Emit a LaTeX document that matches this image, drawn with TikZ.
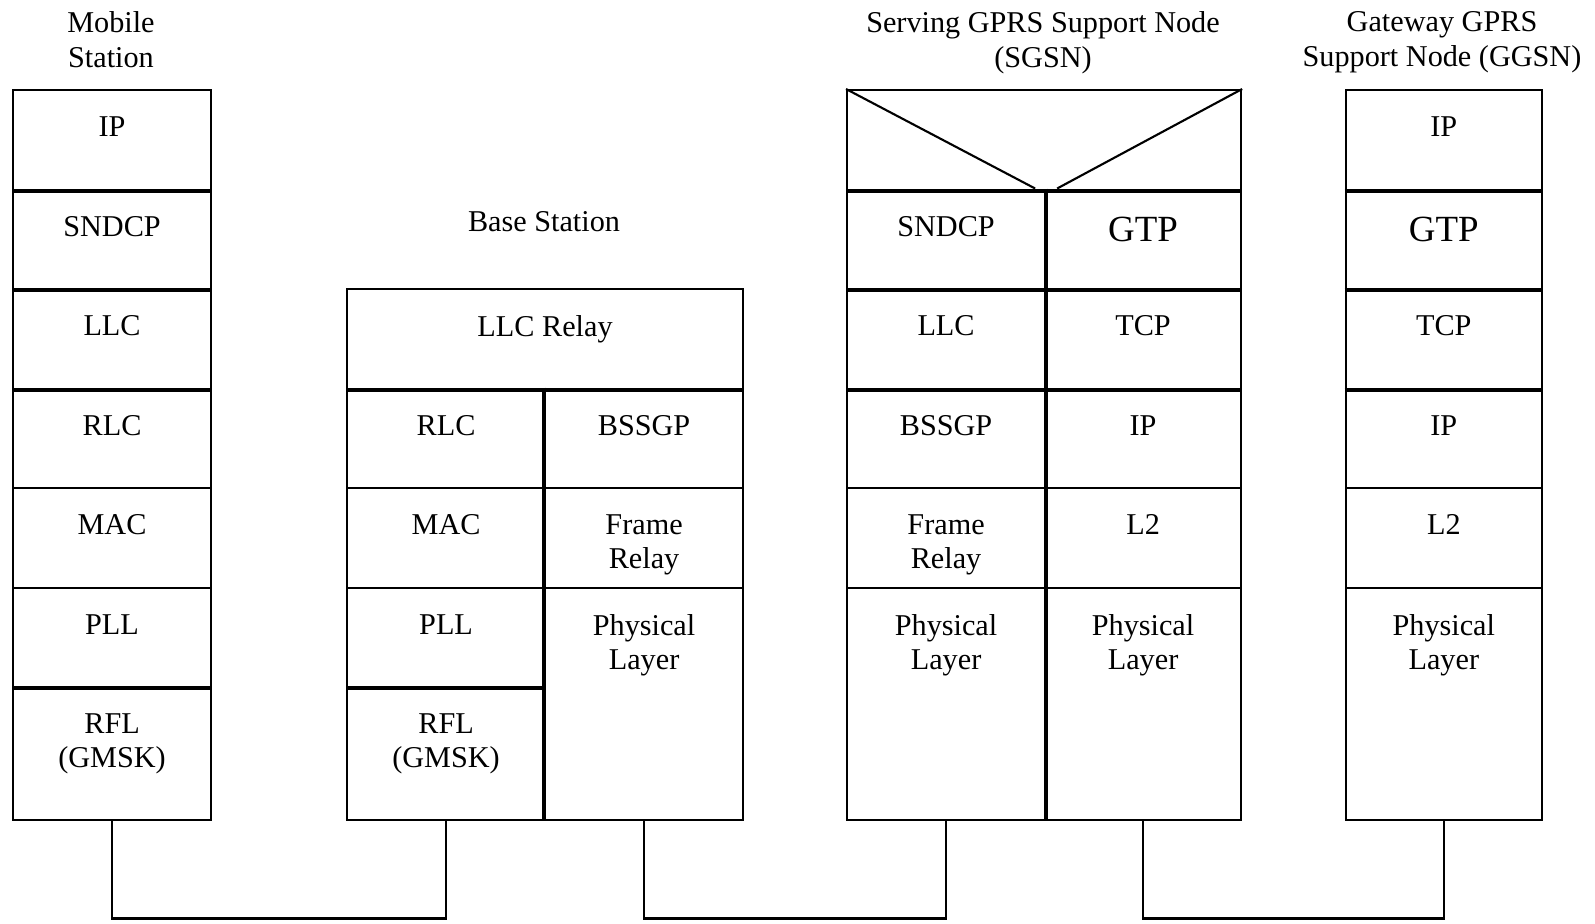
\documentclass[tikz,border=0pt]{standalone}
\usepackage{fontspec}
\setmainfont{Liberation Serif}

\begin{document}
\begin{tikzpicture}[x=1mm, y=-1mm,
  font=\fontsize{8.6}{9.8}\selectfont,
  cell/.style={draw, line width=0.6pt, anchor=north west, inner sep=0pt,
    minimum width=19.8mm, minimum height=9.95mm},
  lbl/.style={anchor=north, yshift=-2.7mm, inner sep=0pt, align=center},
  big/.style={lbl, yshift=-0.1mm, font=\fontsize{10.5}{11}\selectfont},
  head/.style={anchor=north, inner sep=0pt, align=center},
  sep/.style={line width=1.2pt},
  link/.style={line width=0.6pt}]
\useasboundingbox (0,0) rectangle (159.5,92.3);

\node[head] (mshead) at (11.1,1.1) {Mobile\\Station};
\node[head] (bshead) at (54.4,21.1) {Base Station};
\node[head] (sghead) at (104.3,1.1) {Serving GPRS Support Node\\(SGSN)};
\node[head] (gghead) at (144.2,1.1) {Gateway GPRS\\Support Node (GGSN)};

\node[cell, label={[lbl]north:IP}] (ms1) at (1.2,8.9) {};
\node[cell, label={[lbl]north:SNDCP}] (ms2) at (1.2,18.85) {};
\node[cell, label={[lbl]north:LLC}] (ms3) at (1.2,28.8) {};
\node[cell, label={[lbl]north:RLC}] (ms4) at (1.2,38.75) {};
\node[cell, label={[lbl]north:MAC}] (ms5) at (1.2,48.7) {};
\node[cell, label={[lbl]north:PLL}] (ms6) at (1.2,58.65) {};
\node[cell, minimum height=13.3mm, label={[lbl]north:RFL\\(GMSK)}] (ms7) at (1.2,68.6) {};

\node[cell, minimum width=39.6mm, label={[lbl]north:LLC Relay}] (bs0) at (34.6,28.8) {};
\node[cell, label={[lbl]north:RLC}] (bs1) at (34.6,38.75) {};
\node[cell, label={[lbl]north:BSSGP}] (bs2) at (54.4,38.75) {};
\node[cell, label={[lbl]north:MAC}] (bs3) at (34.6,48.7) {};
\node[cell, label={[lbl]north:Frame\\Relay}] (bs4) at (54.4,48.7) {};
\node[cell, label={[lbl]north:PLL}] (bs5) at (34.6,58.65) {};
\node[cell, minimum height=23.25mm, label={[lbl]north:Physical\\Layer}] (bs6) at (54.4,58.65) {};
\node[cell, minimum height=13.3mm, label={[lbl]north:RFL\\(GMSK)}] (bs7) at (34.6,68.6) {};

\node[cell, minimum width=39.4mm] (sg0) at (84.6,8.9) {};
\node[cell, label={[lbl]north:SNDCP}] (sg1) at (84.6,18.85) {};
\node[cell, minimum width=19.6mm, label={[big]north:GTP}] (sg2) at (104.4,18.85) {};
\node[cell, label={[lbl]north:LLC}] (sg3) at (84.6,28.8) {};
\node[cell, minimum width=19.6mm, label={[lbl]north:TCP}] (sg4) at (104.4,28.8) {};
\node[cell, label={[lbl]north:BSSGP}] (sg5) at (84.6,38.75) {};
\node[cell, minimum width=19.6mm, label={[lbl]north:IP}] (sg6) at (104.4,38.75) {};
\node[cell, label={[lbl]north:Frame\\Relay}] (sg7) at (84.6,48.7) {};
\node[cell, minimum width=19.6mm, label={[lbl]north:L2}] (sg8) at (104.4,48.7) {};
\node[cell, minimum height=23.25mm, label={[lbl]north:Physical\\Layer}] (sg9) at (84.6,58.65) {};
\node[cell, minimum width=19.6mm, minimum height=23.25mm, label={[lbl]north:Physical\\Layer}] (sg10) at (104.4,58.65) {};

\node[cell, minimum width=19.65mm, label={[lbl]north:IP}] (gg1) at (134.45,8.9) {};
\node[cell, minimum width=19.65mm, label={[big]north:GTP}] (gg2) at (134.45,18.85) {};
\node[cell, minimum width=19.65mm, label={[lbl]north:TCP}] (gg3) at (134.45,28.8) {};
\node[cell, minimum width=19.65mm, label={[lbl]north:IP}] (gg4) at (134.45,38.75) {};
\node[cell, minimum width=19.65mm, label={[lbl]north:L2}] (gg5) at (134.45,48.7) {};
\node[cell, minimum width=19.65mm, minimum height=23.25mm, label={[lbl]north:Physical\\Layer}] (gg6) at (134.45,58.65) {};

\draw[link] (sg0.north west) -- ([xshift=-1.1mm]sg1.north east);
\draw[link] (sg0.north east) -- ([xshift=1.1mm]sg1.north east);

\draw[sep] (ms1.south west) -- (ms1.south east);
\draw[sep] (ms2.south west) -- (ms2.south east);
\draw[sep] (ms3.south west) -- (ms3.south east);
\draw[sep] (ms6.south west) -- (ms6.south east);

\draw[sep] (bs0.south west) -- (bs0.south east);
\draw[sep] (bs5.south west) -- (bs5.south east);
\draw[sep] (bs2.north west) -- (bs6.south west);

\draw[sep] (sg0.south west) -- (sg0.south east);
\draw[sep] (sg1.south west) -- (sg2.south east);
\draw[sep] (sg3.south west) -- (sg4.south east);
\draw[sep] (sg1.north east) -- (sg9.south east);

\draw[sep] (gg1.south west) -- (gg1.south east);
\draw[sep] (gg2.south west) -- (gg2.south east);
\draw[sep] (gg3.south west) -- (gg3.south east);

\coordinate (bot) at (0,91.85);
\draw[link] (ms7.south) -- (ms7.south |- bot) -| (bs7.south);
\draw[link] (bs6.south) -- (bs6.south |- bot) -| (sg9.south);
\draw[link] (sg10.south) -- (sg10.south |- bot) -| (gg6.south);

\end{tikzpicture}
\end{document}
